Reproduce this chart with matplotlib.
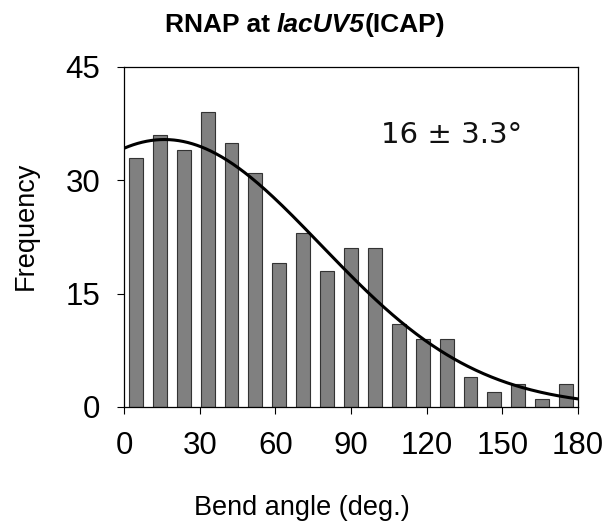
import numpy as np
import matplotlib
matplotlib.use("Agg")
import matplotlib.pyplot as plt

# Data
frequency = [33, 36, 34, 39, 35, 31, 19, 23, 18, 21, 21, 11, 9, 9, 4, 2, 3, 1, 3]
angle_max = 180.0
n_bins = len(frequency)
bin_width = angle_max / n_bins
bin_centers = (np.arange(n_bins) + 0.5) * bin_width

# Gaussian fit parameters
fit_amp = 35.4
fit_mu = 16.0
fit_sigma = 62.0

x_ticks = [0, 30, 60, 90, 120, 150, 180]
y_ticks = [0, 15, 30, 45]
annotation = "16 \u00b1 3.3\u00b0"

plt.rcParams['font.family'] = ['Liberation Sans', 'DejaVu Sans']

fig = plt.figure(figsize=(6.11, 5.25), dpi=100)
ax = fig.add_axes([124/611, 1-407/525, (578-124)/611, (407-67)/525])

ax.bar(bin_centers, frequency, width=bin_width*0.58, color='#808080',
       edgecolor='#333333', linewidth=0.8, zorder=2)

xs = np.linspace(0, angle_max, 400)
ys = fit_amp * np.exp(-(xs - fit_mu)**2 / (2 * fit_sigma**2))
ax.plot(xs, ys, color='black', lw=2.2, zorder=3)

ax.set_xlim(0, 180)
ax.set_ylim(0, 45)
ax.set_xticks(x_ticks)
ax.set_yticks(y_ticks)
ax.tick_params(axis='both', direction='out', length=5, width=0.8,
               labelsize=22.5, color='black')
ax.tick_params(axis='x', pad=12)
ax.tick_params(axis='y', pad=12)
for s in ax.spines.values():
    s.set_linewidth(0.9)
    s.set_color('black')

ax.text(102.0, 35, annotation, fontsize=21, family=['DejaVu Sans'],
        ha='left', va='baseline', color='#111111')

fig.text(302/611, 1-515/525, "Bend angle (deg.)", fontsize=19.5,
         ha='center', va='baseline')
fig.text(26/611, 1-226/525, "Frequency", fontsize=19.5, rotation=90,
         ha='center', va='center')

# Title with mixed styles
renderer = fig.canvas.get_renderer()
parts = [("RNAP at ", 'normal'), ("lacUV5", 'italic'), ("(ICAP)", 'normal')]
texts = []
for s, st in parts:
    t = fig.text(0, 1-32/525, s, fontsize=19, fontweight='bold', style=st,
                 ha='left', va='baseline')
    texts.append(t)
widths = [t.get_window_extent(renderer=renderer).width for t in texts]
total = sum(widths)
x0 = 305 - total / 2
for t, w in zip(texts, widths):
    t.set_x(x0 / 611)
    x0 += w

fig.savefig("out.png", dpi=100)
